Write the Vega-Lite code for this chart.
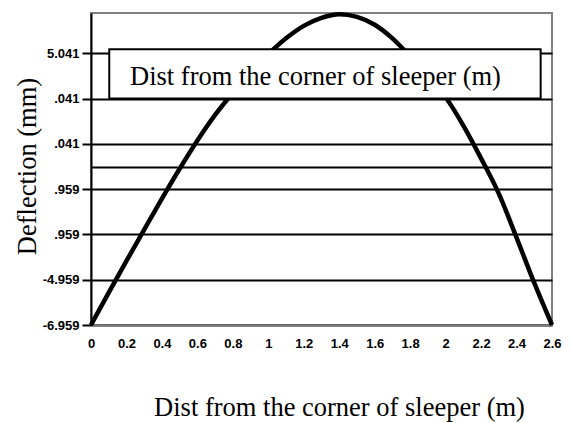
{
  "$schema": "https://vega.github.io/schema/vega-lite/v6.json",
  "width": 461,
  "height": 312,
  "autosize": {"type": "none"},
  "padding": {"left": 91, "top": 13, "right": 20, "bottom": 98},
  "background": "white",
  "config": {
    "view": {"stroke": "#808080", "strokeWidth": 2},
    "font": "Liberation Sans",
    "axis": {
      "labelOverlap": false,
      "labelFlush": false,
      "labelFont": "Liberation Sans",
      "labelFontWeight": "bold",
      "labelFontSize": 13,
      "labelColor": "black",
      "titleFont": "Liberation Serif",
      "titleFontWeight": "normal",
      "titleFontSize": 26.5,
      "titleColor": "black"
    },
    "axisX": {
      "grid": false,
      "ticks": false,
      "tickSize": 0,
      "domainColor": "#808080",
      "domainWidth": 2,
      "labelPadding": 12,
      "titleX": 248,
      "titleY": 90,
      "titleAlign": "center",
      "titleBaseline": "alphabetic"
    },
    "axisY": {
      "grid": true,
      "gridColor": "black",
      "gridWidth": 2,
      "gridOpacity": 1,
      "domainColor": "black",
      "domainWidth": 2,
      "tickColor": "black",
      "tickWidth": 2,
      "tickSize": 9,
      "labelPadding": 3,
      "titleX": -56,
      "titleY": 153,
      "titleAngle": -90,
      "titleAlign": "center",
      "titleBaseline": "alphabetic"
    }
  },
  "datasets": {
    "curve": [
      {"dist": 0.0, "defl": -6.959},
      {"dist": 0.1, "defl": -5.53},
      {"dist": 0.2, "defl": -4.13},
      {"dist": 0.3, "defl": -2.75},
      {"dist": 0.4, "defl": -1.38},
      {"dist": 0.5, "defl": -0.06},
      {"dist": 0.6, "defl": 1.19},
      {"dist": 0.7, "defl": 2.32},
      {"dist": 0.8, "defl": 3.3},
      {"dist": 0.9, "defl": 4.2},
      {"dist": 1.0, "defl": 5.0},
      {"dist": 1.1, "defl": 5.7},
      {"dist": 1.2, "defl": 6.25},
      {"dist": 1.3, "defl": 6.6},
      {"dist": 1.4, "defl": 6.76},
      {"dist": 1.5, "defl": 6.65},
      {"dist": 1.6, "defl": 6.3},
      {"dist": 1.7, "defl": 5.7},
      {"dist": 1.8, "defl": 4.9},
      {"dist": 1.9, "defl": 4.0},
      {"dist": 2.0, "defl": 3.1},
      {"dist": 2.1, "defl": 1.85},
      {"dist": 2.2, "defl": 0.4},
      {"dist": 2.3, "defl": -1.16},
      {"dist": 2.4, "defl": -3.1},
      {"dist": 2.5, "defl": -5.1},
      {"dist": 2.6, "defl": -6.959}
    ],
    "zero": [{"y": 0}],
    "box": [{"x1": 0.103, "x2": 2.536, "y1": 3.041, "y2": 5.22, "label": "Dist from the corner of sleeper (m)", "tx": 1.266, "ty": 3.66}]
  },
  "encoding": {
    "x": {
      "type": "quantitative",
      "scale": {"domain": [0, 2.6], "nice": false, "zero": false},
      "axis": {
        "values": [0, 0.2, 0.4, 0.6, 0.8, 1, 1.2, 1.4, 1.6, 1.8, 2, 2.2, 2.4, 2.6],
        "format": "~g",
        "title": "Dist from the corner of sleeper (m)"
      }
    },
    "y": {
      "type": "quantitative",
      "scale": {"domain": [-6.959, 6.82], "nice": false, "zero": false},
      "axis": {
        "values": [-6.959, -4.959, -2.959, -0.959, 1.041, 3.041, 5.041],
        "labelExpr": "datum.value > 4 ? '5.041' : datum.value > 0 ? '.041' : datum.value > -4 ? '.959' : datum.value > -6 ? '-4.959' : '-6.959'",
        "title": "Deflection (mm)"
      }
    }
  },
  "layer": [
    {
      "data": {"name": "curve"},
      "mark": {"type": "line", "color": "black", "strokeWidth": 4.5, "interpolate": "monotone"},
      "encoding": {
        "x": {"field": "dist", "type": "quantitative"},
        "y": {"field": "defl", "type": "quantitative"}
      }
    },
    {
      "data": {"name": "zero"},
      "mark": {"type": "rule", "color": "black", "strokeWidth": 2},
      "encoding": {"y": {"field": "y", "type": "quantitative"}, "x": null}
    },
    {
      "data": {"name": "box"},
      "mark": {"type": "rect", "fill": "white", "stroke": "black", "strokeWidth": 2},
      "encoding": {
        "x": {"field": "x1", "type": "quantitative"},
        "x2": {"field": "x2"},
        "y": {"field": "y1", "type": "quantitative"},
        "y2": {"field": "y2"}
      }
    },
    {
      "data": {"name": "box"},
      "mark": {"type": "text", "font": "Liberation Serif", "fontSize": 26.5, "color": "black", "align": "center", "baseline": "alphabetic"},
      "encoding": {
        "x": {"field": "tx", "type": "quantitative"},
        "y": {"field": "ty", "type": "quantitative"},
        "text": {"field": "label"}
      }
    }
  ]
}
